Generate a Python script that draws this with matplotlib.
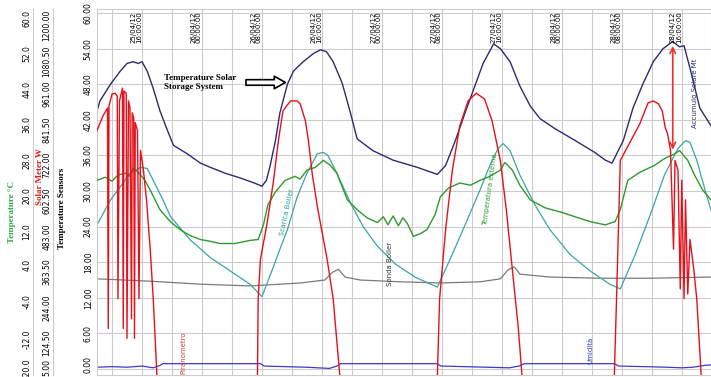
import numpy as np
import matplotlib.pyplot as plt
from matplotlib.transforms import ScaledTranslation

plt.rcParams['font.family'] = ['Liberation Sans Narrow', 'DejaVu Sans']
plt.rcParams['axes.unicode_minus'] = False

# time axis: hours since 25/04/12 00:00
# Accumulo Solare (main scale, deg)
acc_h = [10.0, 10.4, 11.8, 13.1, 14.0, 14.8, 15.5, 16.0, 16.7, 17.5, 18.4, 19.4, 20.2, 22.0, 23.8,
         25.1, 27.1, 29.1, 31.1, 32.0, 32.6, 33.1, 33.8, 34.4, 35.4, 36.2, 37.5, 38.9, 39.8, 40.6,
         41.5, 42.7, 43.8, 44.7, 46.8, 49.5, 52.7, 55.4, 56.5, 57.8, 59.1, 60.4, 61.5, 62.9, 63.8,
         65.1, 66.4, 67.8, 69.1, 71.1, 73.8, 76.4, 77.8, 78.7, 80.2, 81.5, 82.8, 84.2, 85.5, 86.8,
         87.7, 88.3, 89.1, 90.4, 91.9]
acc_v = [43.5, 45.2, 48.0, 50.2, 51.5, 51.8, 51.5, 51.8, 50.2, 47.3, 43.5, 40.2, 37.7, 36.3, 34.7,
         34.0, 33.0, 32.2, 31.3, 30.8, 31.8, 34.3, 38.5, 43.2, 48.0, 50.2, 51.8, 53.2, 53.8, 53.5,
         51.8, 48.2, 43.2, 38.8, 36.8, 35.2, 34.0, 32.8, 34.3, 38.5, 43.2, 47.7, 51.5, 54.8, 54.0,
         51.8, 47.7, 44.3, 42.2, 40.5, 38.5, 36.5, 35.2, 34.7, 38.5, 44.0, 48.0, 51.8, 54.0, 55.2,
         54.3, 54.5, 50.7, 44.0, 41.0]

# Temperatura esterna (left scale, degC)
ext_h = [10.0, 11.1, 12.0, 12.8, 13.8, 14.4, 14.8, 15.5, 16.4, 17.1, 18.4, 19.8, 21.1, 22.4, 23.8,
         25.1, 26.4, 28.4, 30.4, 31.5, 32.2, 32.8, 33.8, 35.1, 36.4, 37.1, 38.0, 39.1, 40.2, 41.1,
         42.0, 43.4, 44.7, 46.0, 47.4, 48.2, 48.8, 49.5, 50.2, 50.8, 51.4, 52.2, 53.1, 54.0, 55.1,
         55.8, 56.9, 58.4, 59.8, 61.1, 62.4, 63.8, 64.4, 65.4, 66.4, 67.8, 69.8, 71.8, 73.8, 75.8,
         77.8, 79.1, 79.8, 80.8, 82.4, 84.4, 85.7, 87.1, 87.7, 88.8, 89.7, 90.8, 91.9]
ext_t = [22.4, 23.1, 22.2, 23.6, 24.0, 23.3, 25.1, 24.2, 22.4, 20.2, 15.8, 13.1, 11.3, 10.0, 9.1,
         8.7, 8.2, 8.2, 8.9, 9.1, 12.4, 16.9, 19.8, 22.4, 23.3, 22.7, 24.7, 25.3, 26.9, 25.8,
         24.0, 18.0, 15.8, 14.0, 12.9, 14.2, 12.4, 14.4, 12.2, 14.0, 12.7, 9.8, 10.4, 11.3, 14.7,
         18.7, 20.7, 21.8, 21.3, 22.4, 23.3, 24.7, 26.4, 24.7, 21.3, 18.0, 16.2, 15.3, 14.2, 13.1,
         12.4, 13.1, 15.8, 22.4, 24.2, 25.8, 27.3, 28.4, 29.1, 26.9, 23.6, 20.2, 18.0]

# Scarica Boiler (main scale)
sca_h = [10.0, 10.4, 11.8, 13.1, 14.4, 15.8, 16.7, 17.5, 18.8, 19.8, 22.4, 25.1, 27.8, 30.4, 32.0,
         33.4, 34.4, 35.4, 36.7, 38.0, 39.4, 40.2, 40.8, 42.0, 43.8, 45.5, 47.4, 49.8, 52.4, 55.4,
         57.1, 59.1, 61.1, 62.4, 63.5, 64.2, 65.1, 66.4, 68.4, 70.4, 73.1, 75.8, 78.4, 79.8, 81.8,
         83.8, 85.7, 87.5, 88.5, 89.1, 90.0, 91.1, 91.9]
sca_v = [24.3, 25.2, 28.5, 30.7, 33.0, 34.0, 33.8, 31.8, 28.5, 25.7, 21.8, 18.8, 16.5, 14.3, 12.2,
         16.8, 20.2, 23.5, 29.0, 33.0, 36.3, 36.5, 36.0, 33.0, 28.0, 24.0, 20.7, 17.7, 15.5, 13.8,
         18.5, 24.3, 30.2, 34.3, 37.2, 38.0, 36.8, 32.7, 27.7, 23.5, 19.3, 16.5, 14.3, 13.5, 19.3,
         26.0, 32.7, 37.2, 38.5, 38.2, 35.2, 30.2, 26.8]

# Sonda Boiler (main scale)
son_h = [10.0, 17.1, 23.8, 30.4, 37.1, 40.4, 41.4, 42.2, 43.1, 45.1, 50.4, 55.8, 61.1, 63.8, 64.9,
         65.7, 66.4, 70.4, 77.1, 83.8, 91.9]
son_v = [15.2, 14.8, 14.3, 14.0, 14.5, 15.0, 16.3, 16.8, 15.5, 15.0, 14.7, 14.5, 14.7, 15.2, 16.8,
         17.2, 16.0, 15.5, 15.3, 15.3, 15.5]

# Umidita (main scale)
umi_h = [10.0, 12.0, 14.0, 16.0, 17.5, 18.4, 18.8, 25.0, 31.8, 32.3, 35.0, 38.0, 41.0, 42.0, 42.5,
         48.0, 55.3, 55.9, 59.0, 62.0, 65.0, 66.3, 67.0, 73.0, 79.0, 79.6, 83.0, 86.0, 88.0, 89.5,
         91.0, 91.9]
umi_v = [0.3, 0.4, 0.3, 0.5, 0.2, 0.6, 0.9, 0.9, 0.9, 0.5, 0.4, 0.3, 0.1, 0.5, 0.9,
         0.9, 0.9, 0.5, 0.4, 0.3, 0.2, 0.5, 0.9, 0.9, 0.9, 0.5, 0.4, 0.3, 0.2, 0.3,
         0.6, 0.7]

# Solar meter (W); night readings sit below the bottom of the scale
sol_h = [10.0, 10.8, 11.4, 11.5, 11.6, 12.0, 12.4, 12.7, 12.8, 13.0, 13.4, 13.5, 13.6, 13.9, 14.0,
         14.2, 14.4, 14.6, 14.7, 14.9, 15.0, 15.1, 15.4, 15.6, 15.8, 16.2, 16.6, 17.1, 17.5, 18.0,
         31.4, 31.5, 31.8, 32.7, 33.5, 34.2, 34.8, 35.8, 36.7, 37.1, 37.8, 38.2, 38.7, 39.4, 40.2,
         40.7, 41.5, 42.4,
         55.4, 55.7, 56.5, 57.4, 58.4, 59.5, 60.6, 61.7, 62.7, 63.8, 64.6, 65.4, 66.2, 66.7,
         79.0, 79.3, 79.8, 82.4, 83.5, 84.2, 84.9, 85.4, 85.8, 86.1, 86.5, 86.9, 87.1, 87.5, 87.8,
         88.0, 88.3, 88.5, 88.8, 89.1, 89.6, 90.0, 90.6, 91.9]
sol_w = [805, 855, 881, 141, 888, 928, 931, 921, 241, 905, 948, 141, 938, 931, 108,
         905, 881, 174, 865, 848, 108, 832, 805, 241, 739, 672, 573, 407, 241, -20,
         -20, 241, 373, 496, 629, 772, 871, 905, 905, 895, 838, 772, 662, 549, 440,
         373, 241, -20,
         -20, 241, 473, 672, 822, 905, 931, 911, 838, 705, 539, 340, 141, -20,
         -20, 241, 705, 828, 898, 905, 895, 871, 815, 795, 739, 407, 705, 672, 274,
         639, 241, 573, 257, 440, 340, 241, -20, -20]

date_h = [16, 24, 32, 40, 48, 56, 64, 72, 80, 88]
date_lab = ['25/04/12\n16:00:00', '26/04/12\n00:00:00', '26/04/12\n08:00:00', '26/04/12\n16:00:00',
            '27/04/12\n00:00:00', '27/04/12\n08:00:00', '27/04/12\n16:00:00', '28/04/12\n00:00:00',
            '28/04/12\n08:00:00', '28/04/12\n16:00:00']

fig = plt.figure(figsize=(7.11, 3.77), dpi=100)
ax = fig.add_axes([97/711, 2/377, 614/711, 366/377])
lo, hi = -1.01, 60.68
ax.set_ylim(lo, hi)
ax.set_xlim(10.0, 91.9)

gc = '#cccccc'


def lift_bottom_label(a, pts):
    lab = a.get_yticklabels()[0]
    lab.set_transform(lab.get_transform() + ScaledTranslation(0, pts / 72, fig.dpi_scale_trans))


ax.set_xticks(np.arange(12, 92, 4))
ax.set_yticks(np.arange(0, 61, 6))
ax.grid(True, color=gc, lw=0.8)
ax.tick_params(axis='x', length=0, labelbottom=False)
ax.tick_params(axis='y', length=0, labelrotation=90, labelsize=5.5, pad=3)
ax.set_yticklabels(['%.2f' % v for v in np.arange(0, 61, 6)], va='center')
lift_bottom_label(ax, 3)
for s in ax.spines.values():
    s.set_color(gc)

for h, lab in zip(date_h, date_lab):
    ax.text(h, hi - 0.4, lab, rotation=90, ha='right', va='top', fontsize=5, linespacing=0.95)


# extra left scales
def side_axis(pos, lims, ticks, fmt):
    a = ax.twinx()
    a.set_ylim(*lims)
    a.yaxis.tick_left()
    a.set_yticks(ticks)
    a.set_yticklabels([fmt % t for t in ticks], va='center')
    a.tick_params(axis='y', length=0, labelrotation=90, labelsize=5.5, pad=1)
    for k, s in a.spines.items():
        s.set_visible(k == 'left')
    a.spines['left'].set_position(('axes', pos))
    a.spines['left'].set_color(gc)
    a.set_xlim(ax.get_xlim())
    lift_bottom_label(a, 5)
    return a


k_t = 80 / 60
axt = side_axis((33 - 97) / 614, (-20 + lo * k_t, -20 + hi * k_t), np.arange(-20, 61, 8), '%.1f')
k_w = 1195 / 60
axw = side_axis((53 - 97) / 614, (5 + lo * k_w, 5 + hi * k_w), np.arange(5, 1201, 119.5), '%.2f')

ax.plot(son_h, son_v, color='#7a7a7a', lw=0.9)
ax.plot(sca_h, sca_v, color='#3aa6a0', lw=0.9)
axt.plot(ext_h, ext_t, color='#2f9a2f', lw=1.0)
ax.plot(acc_h, acc_v, color='#2c2c6e', lw=1.0)
ax.plot(umi_h, umi_v, color='#3a3ac8', lw=0.9)
axw.plot(sol_h, sol_w, color='#e8101a', lw=1.0)

tf = ['Liberation Serif', 'DejaVu Serif']
fig.text(12/711, 1 - 212/377, 'Temperature °C', color='#2aa84a', rotation=90, ha='center', va='center',
         fontsize=6.5, fontweight='bold', family=tf)
fig.text(40/711, 1 - 177/377, 'Solar Meter W', color='#e01818', rotation=90, ha='center', va='center',
         fontsize=6.5, fontweight='bold', family=tf)
fig.text(62/711, 1 - 208/377, 'Temperature Sensors', color='black', rotation=90, ha='center', va='center',
         fontsize=6.5, fontweight='bold', family=tf)

axw.text(18.9, 49.7 * k_w + 5, 'Temperature Solar\nStorage System', fontsize=6.5, fontweight='bold',
         family=tf, ha='left', va='top')
ax.annotate('', xy=(35.5, 48.3), xytext=(29.5, 48.3),
            arrowprops=dict(arrowstyle='simple,head_width=0.9,head_length=0.8,tail_width=0.4',
                            fc='white', ec='black', lw=1.2))
ax.annotate('', xy=(86.8, 54.9), xytext=(86.8, 36.5),
            arrowprops=dict(arrowstyle='<->', color='#f03030', lw=1.2))

ax.text(89.8, 46.5, 'Accumulo Solare Mt', rotation=90, color='#2c2c6e', fontsize=5, ha='center', va='center')
ax.text(35.3, 26.5, 'Scarica Boiler', rotation=78, color='#2a9a96', fontsize=5, ha='center', va='center')
ax.text(49.1, 17.7, 'Sonda Boiler', rotation=90, color='#333333', fontsize=5, ha='center', va='center')
ax.text(62.4, 30.2, 'Temperatura esterna', rotation=82, color='#2f9a2f', fontsize=5, ha='center', va='center')
ax.text(21.5, 2.7, 'Piranometro', rotation=90, color='#c84040', fontsize=5, ha='center', va='center')
ax.text(75.8, 3.2, 'Umidità', rotation=90, color='#3a3ac8', fontsize=5, ha='center', va='center')

fig.savefig('out.png', dpi=100)
